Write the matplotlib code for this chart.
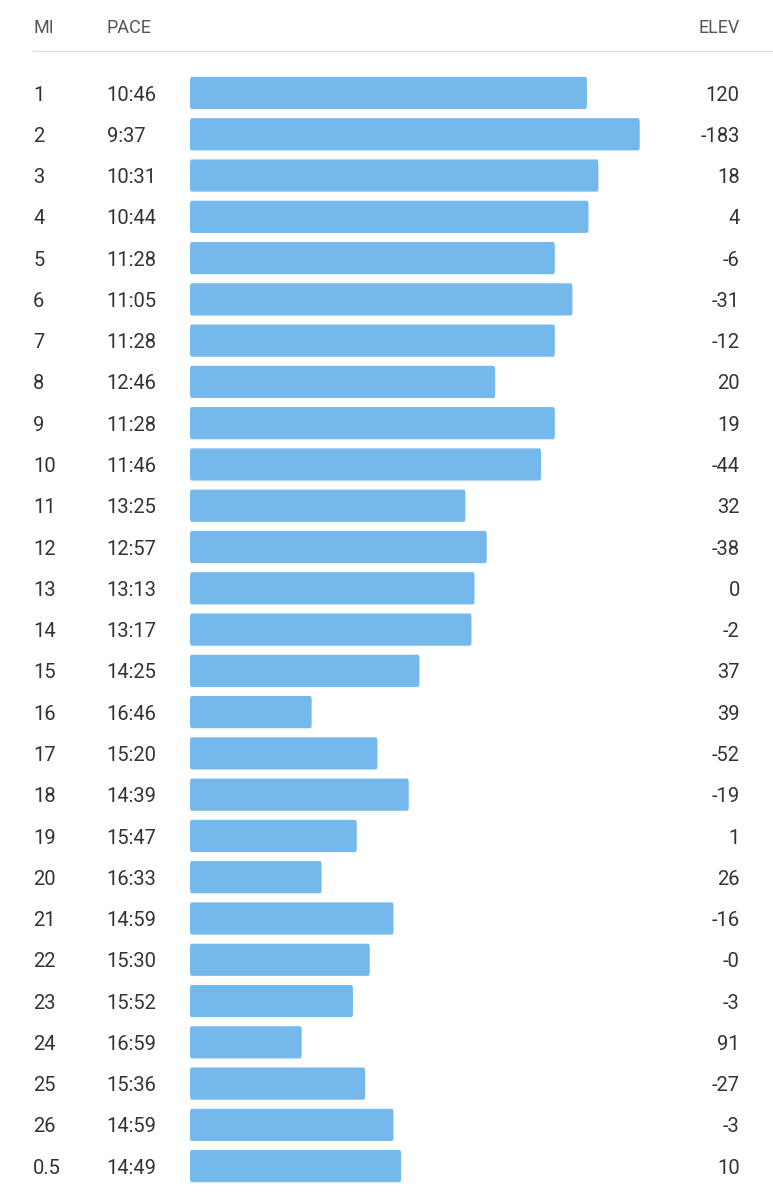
import matplotlib.pyplot as plt
from matplotlib.patches import FancyBboxPatch

plt.rcParams["font.family"] = ["Roboto", "DejaVu Sans"]

miles = ["1", "2", "3", "4", "5", "6", "7", "8", "9", "10", "11", "12", "13",
         "14", "15", "16", "17", "18", "19", "20", "21", "22", "23", "24",
         "25", "26", "0.5"]
paces = ["10:46", "9:37", "10:31", "10:44", "11:28", "11:05", "11:28",
         "12:46", "11:28", "11:46", "13:25", "12:57", "13:13", "13:17",
         "14:25", "16:46", "15:20", "14:39", "15:47", "16:33", "14:59",
         "15:30", "15:52", "16:59", "15:36", "14:59", "14:49"]
elev = ["120", "-183", "18", "4", "-6", "-31", "-12", "20", "19", "-44",
        "32", "-38", "0", "-2", "37", "39", "-52", "-19", "1", "26", "-16",
        "-0", "-3", "91", "-27", "-3", "10"]

# bar length grows as pace drops below this (seconds per mile)
PACE_FLOOR = 1165


def to_seconds(p):
    m, s = p.split(":")
    return int(m) * 60 + int(s)


bar_len = [PACE_FLOOR - to_seconds(p) for p in paces]

BAR_COLOR = "#74b8ec"
TEXT_COLOR = "#333333"
HEAD_COLOR = "#555555"

fig = plt.figure(figsize=(7.73, 12), dpi=100)
ax = fig.add_axes([0, 0, 1, 1])
ax.set_xlim(-248.5, 762.3)
ax.set_ylim(26.82, -2.253)
ax.axis("off")

trans = ax.get_yaxis_transform()
txt = dict(transform=trans, va="center", fontsize=14.5, color=TEXT_COLOR)
for i, (mi, p, e, w) in enumerate(zip(miles, paces, elev, bar_len)):
    ax.add_patch(FancyBboxPatch((0, i - 0.39), w, 0.78,
                                boxstyle="round,pad=0,rounding_size=2",
                                mutation_aspect=0.05,
                                facecolor=BAR_COLOR, edgecolor="none"))
    ty = i + 0.05
    ax.text(0.043, ty, mi, ha="left", **txt)
    ax.text(0.138, ty, p, ha="left", **txt)
    ax.text(0.957, ty, e, ha="right", **txt)

head_y = -1.57
head = dict(transform=trans, va="center", fontsize=13, color=HEAD_COLOR)
ax.text(0.043, head_y, "MI", ha="left", **head)
ax.text(0.138, head_y, "PACE", ha="left", **head)
ax.text(0.957, head_y, "ELEV", ha="right", **head)
ax.plot([0.043, 1.0], [-1.02, -1.02], transform=trans, color="#dddddd",
        linewidth=1)

fig.savefig("out.png", dpi=100)
